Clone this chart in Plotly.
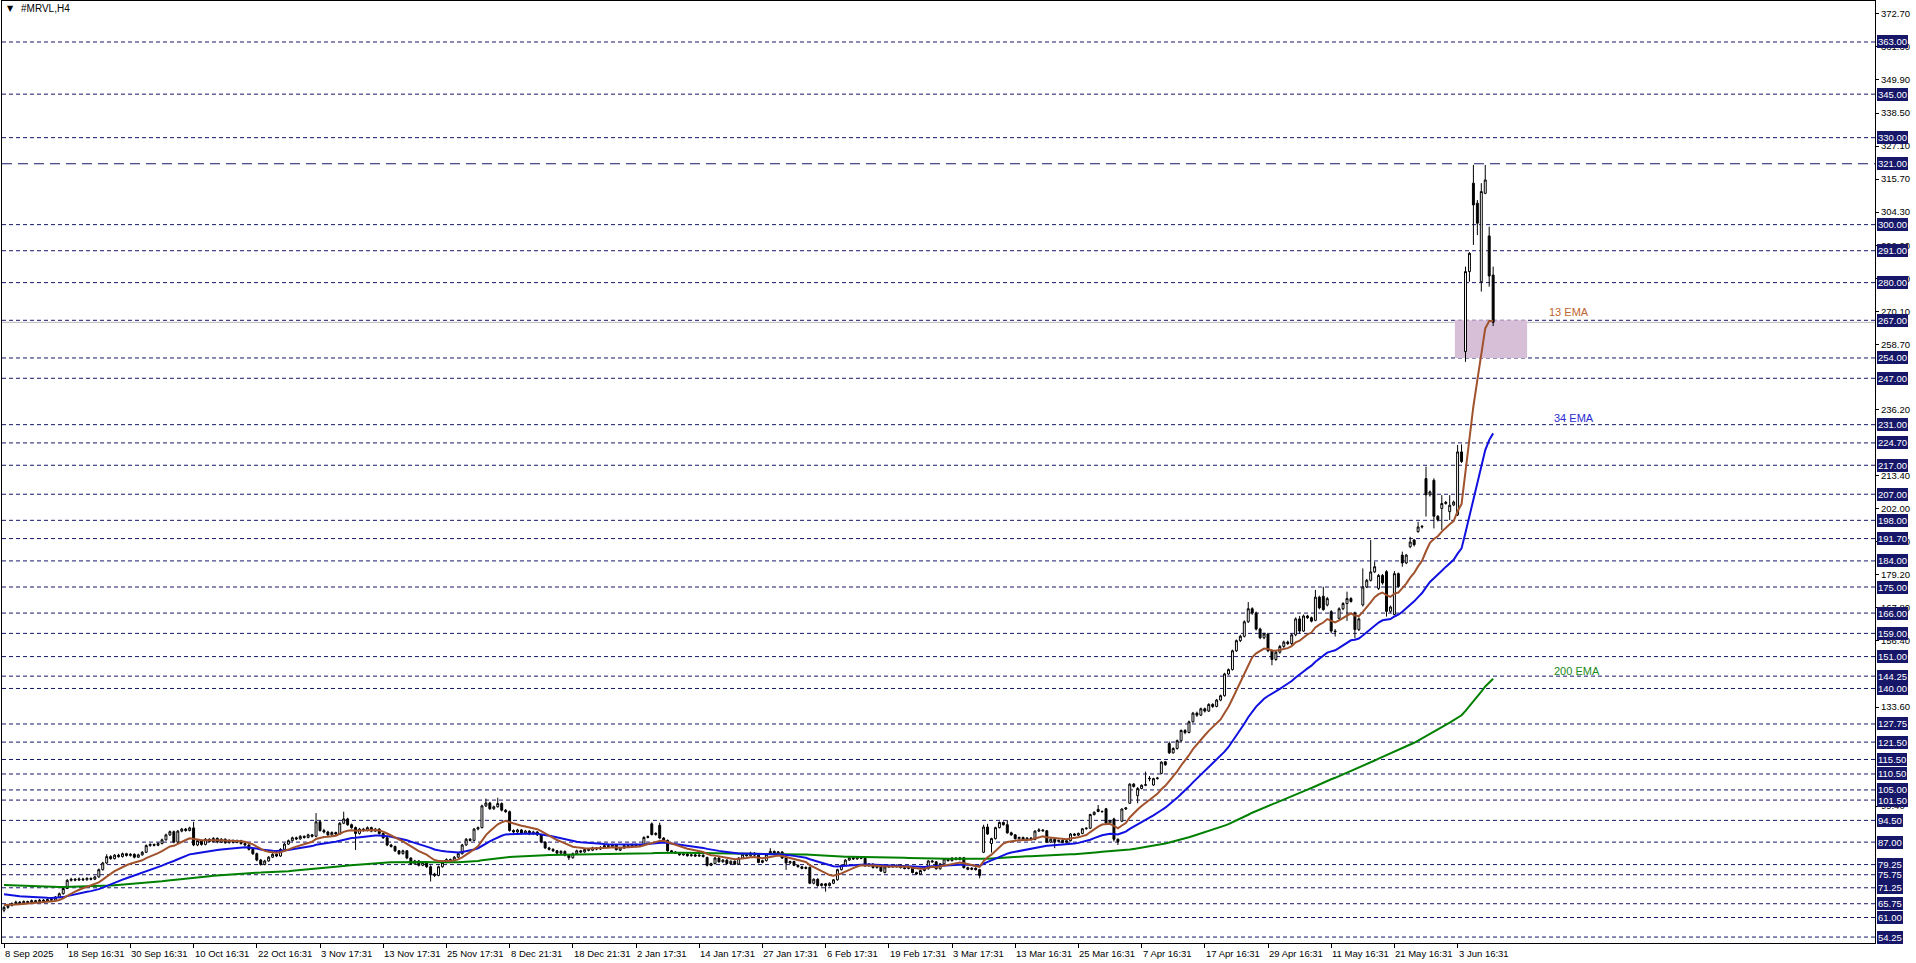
import plotly.graph_objects as go

# ---------------- data (MRVL H4) ----------------
opens = [
63.5, 64.5, 65.2, 65.8, 66.3, 66.0, 66.5, 66.2, 66.8, 66.5,
67.0, 66.6, 67.2, 67.0, 68.0, 69.2, 71.0, 73.8, 74.2, 73.9,
74.3, 74.0, 74.5, 74.2, 75.0, 77.5, 79.8, 82.0, 81.3, 82.5,
82.0, 83.0, 82.4, 82.8, 81.8, 82.6, 83.5, 85.8, 86.2, 85.9,
86.5, 87.8, 89.5, 90.6, 87.0, 90.8, 91.5, 91.0, 91.9, 86.0,
87.5, 86.2, 88.0, 87.2, 88.3, 87.0, 88.0, 86.8, 87.6, 86.9,
87.5, 86.5, 86.0, 84.5, 83.0, 80.8, 79.3, 80.5, 81.8, 82.8,
82.2, 84.5, 86.3, 87.5, 88.5, 88.1, 89.0, 88.6, 89.5, 89.0,
94.0, 91.0, 90.5, 89.5, 90.3, 89.8, 93.5, 95.0, 93.0, 92.0,
90.0, 91.5, 91.0, 92.0, 90.8, 91.5, 90.0, 88.5, 86.0, 85.5,
84.0, 83.0, 84.0, 81.5, 79.5, 80.5, 79.0, 80.0, 78.5, 76.0,
75.5, 78.5, 80.0, 81.0, 80.6, 81.8, 83.0, 86.0, 88.0, 87.6,
91.5, 92.0, 99.5, 100.5, 98.5, 99.2, 100.3, 98.0, 97.5, 91.0,
90.5, 91.2, 90.0, 90.8, 89.8, 90.5, 89.5, 87.0, 85.0, 84.5,
84.0, 83.2, 83.8, 82.5, 81.6, 83.0, 84.0, 83.6, 84.5, 84.2,
85.0, 84.6, 85.2, 85.8, 85.5, 86.0, 84.2, 85.0, 85.8, 85.4,
86.2, 85.6, 85.9, 88.6, 93.3, 89.6, 92.8, 88.4, 87.6, 84.0,
83.6, 83.2, 82.6, 82.9, 82.3, 82.6, 82.2, 82.5, 81.7, 79.0,
79.6, 81.5, 80.2, 80.8, 79.6, 80.4, 79.4, 81.5, 82.8, 82.3,
83.2, 82.5, 80.0, 80.6, 82.8, 83.8, 83.2, 83.6, 81.5, 79.8,
80.3, 79.0, 78.5, 77.9, 78.3, 72.8, 74.2, 72.0, 72.6, 72.0,
72.8, 74.0, 77.5, 79.0, 80.8, 81.6, 81.2, 81.8, 81.4, 78.8,
79.4, 78.2, 78.6, 76.5, 78.4, 78.8, 78.5, 79.0, 78.2, 77.9,
78.4, 76.5, 76.0, 77.2, 77.8, 80.5, 80.2, 77.8, 79.5, 81.2,
80.6, 81.5, 81.0, 81.6, 78.2, 77.6, 78.0, 77.5, 83.5, 92.2,
86.5, 88.2, 92.0, 93.8, 93.0, 90.2, 89.5, 88.2, 88.6, 87.8,
88.4, 87.9, 90.8, 91.2, 90.9, 87.0, 88.0, 87.2, 87.6, 86.9,
87.5, 89.8, 89.4, 90.0, 91.6, 91.8, 96.5, 98.3, 97.6, 98.5,
93.6, 95.0, 88.0, 94.2, 98.4, 100.4, 107.0, 103.0, 105.5, 106.6,
108.8, 106.7, 108.9, 110.7, 114.7, 121.0, 117.8, 119.3, 122.0, 125.5,
124.8, 128.5, 131.5, 130.8, 133.0, 132.2, 134.5, 133.8, 136.0, 137.5,
145.0, 146.5, 153.0, 156.5, 158.0, 163.0, 167.5, 166.0, 160.5, 157.5,
158.8, 153.0, 150.0, 152.5, 154.5, 156.0, 155.5, 158.5, 164.0, 159.8,
165.0, 164.4, 163.5, 171.5, 171.8, 168.8, 166.5, 159.8, 164.2, 167.5,
169.3, 171.0, 166.0, 160.3, 168.8, 175.0, 177.3, 180.2, 174.5, 179.0,
180.3, 166.6, 165.5, 179.6, 186.0, 183.3, 188.9, 191.2, 194.1, 195.7,
212.4, 206.8, 211.8, 199.4, 202.1, 203.8, 201.0, 203.3, 199.9, 221.6,
256.2, 283.8, 314.3, 307.4, 280.3, 310.8, 296.1, 282.6]

highs = [
65.0, 65.6, 66.2, 66.8, 66.7, 66.9, 66.8, 67.2, 67.1, 67.4,
67.3, 67.6, 67.5, 68.4, 69.6, 71.4, 74.3, 74.7, 74.6, 74.8,
74.7, 74.9, 74.8, 75.4, 77.9, 80.2, 82.8, 82.5, 82.9, 83.0,
83.4, 83.3, 83.2, 83.1, 83.0, 83.9, 86.2, 86.6, 86.5, 86.9,
88.2, 89.9, 91.0, 91.0, 91.2, 91.9, 91.9, 92.3, 94.0, 87.9,
87.8, 88.4, 88.3, 88.7, 88.6, 88.4, 88.3, 88.0, 87.9, 87.9,
87.8, 86.9, 86.3, 84.9, 83.4, 81.2, 80.9, 82.2, 83.2, 83.1,
84.9, 86.7, 87.9, 88.9, 88.9, 89.4, 89.3, 89.9, 89.8, 97.0,
94.5, 91.6, 90.9, 90.7, 90.6, 93.9, 97.5, 95.4, 93.4, 92.4,
91.9, 91.9, 92.4, 92.3, 91.9, 91.8, 90.3, 88.8, 86.4, 85.8,
84.3, 84.4, 84.3, 81.8, 80.9, 80.8, 80.4, 80.3, 79.0, 76.4,
78.9, 80.4, 81.4, 81.3, 82.2, 83.4, 86.4, 88.4, 88.4, 91.9,
92.4, 99.9, 102.0, 100.9, 99.6, 102.3, 100.7, 98.4, 97.9, 91.4,
91.6, 91.5, 91.2, 91.1, 90.9, 90.8, 89.8, 87.3, 85.4, 84.9,
84.3, 84.2, 84.1, 82.8, 83.4, 84.4, 84.3, 84.9, 84.8, 85.4,
85.3, 85.6, 86.2, 86.1, 86.4, 86.3, 85.4, 86.1, 86.1, 86.5,
86.5, 86.2, 89.0, 89.3, 93.8, 90.4, 93.7, 88.7, 87.9, 84.3,
83.9, 83.5, 83.2, 83.2, 82.9, 82.9, 82.8, 82.8, 82.0, 79.9,
81.9, 81.8, 81.1, 81.1, 80.7, 80.7, 81.8, 83.2, 83.1, 83.7,
83.5, 82.8, 80.9, 83.1, 84.9, 84.1, 83.9, 83.9, 81.8, 80.6,
80.6, 79.3, 78.8, 78.6, 78.6, 74.5, 74.5, 72.9, 72.9, 73.1,
74.3, 77.8, 79.3, 81.1, 81.9, 81.9, 82.1, 82.1, 81.7, 79.7,
79.7, 78.9, 78.9, 78.7, 79.1, 79.1, 79.3, 79.3, 78.5, 78.7,
78.7, 76.8, 77.5, 78.1, 80.8, 80.8, 80.5, 79.8, 81.5, 81.5,
81.8, 81.8, 81.9, 81.9, 78.5, 78.3, 78.3, 77.8, 93.0, 93.3,
88.5, 92.3, 94.1, 94.1, 94.6, 90.6, 89.8, 88.9, 88.9, 88.7,
88.7, 91.1, 91.8, 91.5, 91.2, 88.3, 88.3, 87.9, 87.9, 87.8,
90.1, 90.1, 90.3, 91.9, 92.1, 96.8, 97.6, 99.8, 97.9, 98.8,
94.7, 95.4, 88.3, 98.7, 99.1, 107.3, 107.4, 106.0, 106.9, 111.3,
109.8, 109.2, 109.5, 114.9, 115.0, 121.7, 119.7, 122.4, 125.9, 126.0,
128.9, 131.9, 132.0, 133.4, 133.4, 134.9, 134.9, 136.4, 137.9, 145.4,
146.9, 153.4, 156.9, 158.5, 163.5, 169.8, 168.0, 166.5, 161.0, 159.3,
159.2, 153.5, 153.0, 155.0, 156.5, 156.5, 159.0, 164.5, 165.0, 165.5,
165.4, 164.8, 174.0, 172.0, 175.1, 171.6, 167.0, 160.5, 168.0, 169.8,
173.4, 171.5, 166.5, 164.5, 181.4, 177.8, 191.2, 183.7, 179.5, 179.5,
180.8, 168.6, 180.5, 180.0, 187.2, 186.4, 192.3, 191.6, 197.5, 196.4,
216.5, 208.3, 212.5, 199.8, 206.7, 204.7, 206.7, 204.8, 224.0, 224.2,
285.5, 290.5, 320.6, 308.5, 314.3, 320.6, 299.3, 285.5]

lows = [
62.8, 64.0, 64.8, 65.4, 65.6, 65.7, 65.8, 65.9, 66.1, 66.2,
66.2, 66.3, 66.6, 66.8, 67.7, 68.9, 70.8, 73.4, 73.5, 73.6,
73.6, 73.7, 73.8, 73.9, 74.7, 77.2, 79.4, 80.9, 81.0, 81.6,
81.7, 82.0, 82.0, 81.4, 81.5, 82.3, 83.2, 85.4, 85.5, 85.6,
86.2, 87.5, 89.1, 86.6, 86.7, 90.4, 90.6, 90.7, 85.6, 85.6,
85.8, 85.9, 86.8, 86.9, 86.6, 86.7, 86.4, 86.5, 86.5, 86.6,
86.1, 85.6, 84.1, 82.6, 80.4, 78.9, 79.0, 80.2, 81.5, 81.8,
81.9, 84.2, 86.0, 87.2, 87.7, 87.8, 88.2, 88.3, 88.6, 88.7,
90.6, 90.0, 89.1, 89.2, 89.4, 89.5, 93.2, 92.6, 91.6, 84.3,
89.6, 90.6, 90.7, 90.4, 90.5, 89.6, 88.1, 85.6, 85.1, 83.6,
82.6, 82.7, 81.1, 79.1, 79.2, 78.6, 78.7, 78.1, 73.4, 75.0,
75.2, 78.2, 79.7, 80.2, 80.3, 81.5, 82.7, 85.7, 87.2, 87.3,
91.1, 91.7, 99.1, 98.1, 98.1, 98.9, 97.6, 97.1, 90.6, 90.1,
90.2, 89.6, 89.7, 89.4, 89.5, 89.1, 86.6, 84.6, 84.1, 83.6,
82.8, 82.9, 82.1, 80.8, 81.3, 82.7, 83.2, 83.3, 83.8, 83.9,
84.2, 84.3, 84.9, 85.1, 85.2, 84.1, 83.9, 84.7, 85.0, 85.1,
85.2, 85.3, 85.6, 88.3, 89.3, 89.2, 88.0, 87.2, 83.7, 83.2,
82.9, 82.3, 82.3, 82.0, 82.0, 81.9, 81.9, 81.7, 78.6, 78.7,
79.3, 79.9, 79.9, 79.3, 79.3, 79.1, 79.1, 81.2, 82.0, 82.0,
82.2, 79.7, 79.7, 80.3, 82.7, 82.9, 82.9, 81.2, 77.4, 79.5,
78.7, 78.2, 77.6, 77.6, 72.5, 72.4, 71.6, 71.7, 69.9, 71.7,
72.5, 73.7, 77.2, 78.7, 80.5, 80.9, 80.9, 81.1, 78.5, 78.5,
77.9, 77.9, 76.7, 76.2, 78.1, 78.2, 78.2, 77.9, 77.6, 77.6,
76.2, 75.7, 75.7, 76.9, 77.5, 79.9, 77.5, 77.5, 79.2, 80.3,
80.3, 80.7, 80.7, 77.9, 77.3, 77.3, 77.2, 74.5, 83.2, 89.5,
83.4, 87.9, 91.7, 92.7, 89.9, 89.2, 87.9, 87.9, 87.5, 87.5,
87.6, 87.6, 90.5, 90.6, 86.7, 86.7, 84.9, 86.9, 86.6, 86.6,
87.2, 89.1, 89.1, 89.7, 91.3, 91.5, 96.2, 97.3, 97.2, 93.3,
93.3, 87.2, 86.0, 93.9, 98.1, 100.2, 105.8, 100.4, 105.2, 106.3,
108.0, 106.4, 108.6, 110.4, 113.3, 117.4, 117.5, 118.9, 121.6, 124.2,
124.5, 128.2, 130.2, 130.5, 131.7, 131.9, 133.3, 133.5, 135.6, 137.2,
144.6, 146.2, 152.6, 156.0, 157.6, 162.6, 165.4, 160.0, 157.0, 157.0,
152.5, 148.0, 149.5, 152.0, 154.0, 155.0, 155.0, 158.0, 159.0, 159.5,
164.0, 162.8, 163.2, 167.3, 166.8, 168.3, 159.0, 157.9, 163.8, 167.0,
163.3, 169.6, 157.3, 159.8, 168.3, 174.6, 176.9, 179.8, 174.0, 175.8,
164.8, 166.1, 165.3, 174.8, 182.0, 182.9, 188.4, 189.0, 193.7, 195.2,
199.3, 206.2, 195.2, 197.6, 194.7, 203.4, 198.1, 202.9, 199.5, 217.8,
252.7, 280.3, 293.0, 296.4, 276.9, 310.5, 278.6, 265.0]

closes = [
64.5, 65.2, 65.8, 66.3, 66.0, 66.5, 66.2, 66.8, 66.5, 67.0,
66.6, 67.2, 67.0, 68.0, 69.2, 71.0, 73.8, 74.2, 73.9, 74.3,
74.0, 74.5, 74.2, 75.0, 77.5, 79.8, 82.0, 81.3, 82.5, 82.0,
83.0, 82.4, 82.8, 81.8, 82.6, 83.5, 85.8, 86.2, 85.9, 86.5,
87.8, 89.5, 90.6, 87.0, 90.8, 91.5, 91.0, 91.9, 86.0, 87.5,
86.2, 88.0, 87.2, 88.3, 87.0, 88.0, 86.8, 87.6, 86.9, 87.5,
86.5, 86.0, 84.5, 83.0, 80.8, 79.3, 80.5, 81.8, 82.8, 82.2,
84.5, 86.3, 87.5, 88.5, 88.1, 89.0, 88.6, 89.5, 89.0, 94.0,
91.0, 90.5, 89.5, 90.3, 89.8, 93.5, 95.0, 93.0, 92.0, 90.0,
91.5, 91.0, 92.0, 90.8, 91.5, 90.0, 88.5, 86.0, 85.5, 84.0,
83.0, 84.0, 81.5, 79.5, 80.5, 79.0, 80.0, 78.5, 76.0, 75.5,
78.5, 80.0, 81.0, 80.6, 81.8, 83.0, 86.0, 88.0, 87.6, 91.5,
92.0, 99.5, 100.5, 98.5, 99.2, 100.3, 98.0, 97.5, 91.0, 90.5,
91.2, 90.0, 90.8, 89.8, 90.5, 89.5, 87.0, 85.0, 84.5, 84.0,
83.2, 83.8, 82.5, 81.6, 83.0, 84.0, 83.6, 84.5, 84.2, 85.0,
84.6, 85.2, 85.8, 85.5, 86.0, 84.4, 85.0, 85.8, 85.4, 86.2,
85.6, 85.9, 88.6, 88.9, 89.6, 90.0, 88.4, 87.6, 84.0, 83.6,
83.2, 82.6, 82.9, 82.3, 82.6, 82.2, 82.5, 82.0, 79.0, 79.6,
81.5, 80.2, 80.8, 79.6, 80.4, 79.4, 81.5, 82.8, 82.3, 83.2,
82.5, 80.0, 80.6, 82.8, 83.8, 83.2, 83.6, 81.5, 79.8, 80.3,
79.0, 78.5, 77.9, 78.3, 72.8, 74.2, 72.0, 72.6, 72.0, 72.8,
74.0, 77.5, 79.0, 80.8, 81.6, 81.2, 81.8, 81.4, 78.8, 79.4,
78.2, 78.6, 77.0, 78.4, 78.8, 78.5, 79.0, 78.2, 77.9, 78.4,
76.5, 76.0, 77.2, 77.8, 80.5, 80.2, 77.8, 79.5, 81.2, 80.6,
81.5, 81.0, 81.6, 78.2, 77.6, 78.0, 77.5, 75.5, 92.2, 89.8,
88.2, 92.0, 93.8, 93.0, 90.2, 89.5, 88.2, 88.6, 87.8, 88.4,
87.9, 90.8, 91.2, 90.9, 87.0, 88.0, 87.2, 87.6, 86.9, 87.5,
89.8, 89.4, 90.0, 91.6, 91.8, 96.5, 97.3, 97.6, 97.5, 93.6,
94.4, 88.0, 87.2, 98.4, 98.8, 107.0, 106.2, 105.5, 106.6, 106.8,
109.0, 108.9, 109.1, 114.6, 113.7, 117.8, 119.3, 122.0, 125.5, 124.8,
128.5, 131.5, 130.8, 133.0, 132.2, 134.5, 133.8, 136.0, 137.5, 145.0,
146.5, 153.0, 156.5, 158.0, 163.0, 167.5, 166.0, 160.5, 157.5, 158.8,
153.0, 150.0, 152.5, 154.5, 156.0, 155.5, 158.5, 164.0, 159.8, 165.0,
164.4, 163.2, 171.5, 167.8, 167.2, 171.0, 159.8, 159.6, 167.5, 169.3,
171.0, 170.0, 160.3, 164.0, 175.0, 177.3, 180.2, 182.0, 179.0, 176.4,
166.6, 168.1, 179.6, 175.2, 183.3, 186.0, 190.5, 189.6, 195.7, 195.9,
206.8, 207.8, 199.4, 198.2, 203.8, 204.2, 203.2, 204.3, 221.6, 218.3,
283.8, 290.1, 306.8, 300.5, 311.4, 315.4, 282.3, 266.3]

ema_seeds = {13: 65.4, 34: 69.3, 200: 72.3}

date_labels = ["8 Sep 2025", "18 Sep 16:31", "30 Sep 16:31", "10 Oct 16:31", "22 Oct 16:31",
               "3 Nov 17:31", "13 Nov 17:31", "25 Nov 17:31", "8 Dec 21:31", "18 Dec 21:31",
               "2 Jan 17:31", "14 Jan 17:31", "27 Jan 17:31", "6 Feb 17:31", "19 Feb 17:31",
               "3 Mar 17:31", "13 Mar 16:31", "25 Mar 16:31", "7 Apr 16:31", "17 Apr 16:31",
               "29 Apr 16:31", "11 May 16:31", "21 May 16:31", "3 Jun 16:31"]
bars_per_label = 16

level_lines = [363, 345, 330, 321, 300, 291, 280, 267, 254, 247, 231, 224.70, 217, 207, 198,
               191.70, 184, 175, 166, 159, 151, 144.25, 140, 127.75, 121.50, 115.50, 110.50,
               105, 101.50, 94.50, 87, 79.25, 75.75, 71.25, 65.75, 61, 54.25]
long_dash_level = 321
# regular price-scale ticks that are (at least partly) visible in the reference
price_ticks = [372.70, 361.30, 349.90, 338.50, 327.10, 315.70, 304.30, 292.90, 281.50, 270.10,
               258.70, 236.20, 213.40, 202.00, 190.60, 179.20, 167.80, 156.40, 133.60, 99.40]
zone_low, zone_high = 254, 267
zone_bars = (367.3, 385.6)

# ---------------- helpers ----------------
def ema(values, period, seed):
    a = 2.0 / (period + 1)
    out, e = [], seed
    for v in values:
        e = e + a * (v - e)
        out.append(e)
    return out

N = len(closes)
xs = list(range(N))
FONT = "Liberation Sans"
NAVY = "#17176a"

W, H = 1916, 963
ML, MR, MT, MB = 2, 41, 1, 20
PW, PH = W - ML - MR, H - MT - MB

def px2paper_x(px):
    return (px - ML) / PW

def px2paper_y(py):
    return (H - MB - py) / PH

fig = go.Figure()

fig.add_trace(go.Candlestick(
    x=xs, open=opens, high=highs, low=lows, close=closes,
    increasing=dict(line=dict(color="black", width=1), fillcolor="white"),
    decreasing=dict(line=dict(color="black", width=1), fillcolor="black"),
    whiskerwidth=0, showlegend=False, hoverinfo="skip"))

ema_styles = [(200, "#008000"), (34, "#1010e0"), (13, "#a0522d")]
for period, col in ema_styles:
    fig.add_trace(go.Scatter(x=xs, y=ema(closes, period, ema_seeds[period]), mode="lines",
                             line=dict(color=col, width=2), showlegend=False, hoverinfo="skip"))

shapes = []
shapes.append(dict(type="rect", xref="x", yref="y", x0=zone_bars[0], x1=zone_bars[1],
                   y0=zone_low, y1=zone_high, fillcolor="#d8bfd8", line=dict(width=0), layer="below"))
for v in level_lines:
    dash = "10px,6px" if v == long_dash_level else "4px,3px"
    shapes.append(dict(type="line", xref="paper", yref="y", x0=0, x1=1, y0=v, y1=v,
                       line=dict(color=NAVY, width=1, dash=dash), layer="below"))
shapes.append(dict(type="line", xref="paper", yref="y", x0=0, x1=1, y0=closes[-1], y1=closes[-1],
                   line=dict(color="#b8b8b8", width=1), layer="below"))

annotations = []
for v in level_lines:
    annotations.append(dict(xref="paper", yref="y", x=px2paper_x(1877), y=v, text=f"{v:.2f}",
                            xanchor="left", yanchor="middle", showarrow=False, bgcolor=NAVY,
                            borderpad=1, borderwidth=0,
                            font=dict(family=FONT, size=9.5, color="white")))
for k, lab in enumerate(date_labels):
    annotations.append(dict(xref="x", yref="paper", x=k * bars_per_label, y=px2paper_y(953),
                            text=lab, xanchor="left", yanchor="middle", xshift=-1, showarrow=False,
                            font=dict(family=FONT, size=9.5, color="black")))
annotations.append(dict(xref="paper", yref="paper", x=px2paper_x(5), y=px2paper_y(9), text="▼",
                        xanchor="left", yanchor="middle", showarrow=False,
                        font=dict(family="DejaVu Sans", size=8, color="black")))
annotations.append(dict(xref="paper", yref="paper", x=px2paper_x(19), y=px2paper_y(9), text="#MRVL,H4",
                        xanchor="left", yanchor="middle", showarrow=False,
                        font=dict(family=FONT, size=10, color="black")))
for txt, pxx, pxy, col in [("13 EMA", 1547, 312, "#c0652e"), ("34 EMA", 1552, 418, "#2a2ad0"),
                           ("200 EMA", 1552, 671, "#1a8a1a")]:
    annotations.append(dict(xref="paper", yref="paper", x=px2paper_x(pxx), y=px2paper_y(pxy), text=txt,
                            xanchor="left", yanchor="middle", showarrow=False,
                            font=dict(family=FONT, size=11, color=col)))

x0 = -(4 - ML) / 3.95
fig.update_layout(
    width=W, height=H, margin=dict(l=ML, r=MR, t=MT, b=MB),
    paper_bgcolor="white", plot_bgcolor="white",
    shapes=shapes, annotations=annotations, showlegend=False,
    xaxis=dict(range=[x0, x0 + PW / 3.95], rangeslider=dict(visible=False), showgrid=False,
               zeroline=False, showline=True, mirror=True, linecolor="black", linewidth=1,
               ticks="outside", ticklen=4, tickcolor="black",
               tickvals=[k * bars_per_label for k in range(len(date_labels))], showticklabels=False),
    yaxis=dict(range=[52.2, 377.14], side="right", showgrid=False, zeroline=False, showline=True,
               mirror=True, linecolor="black", linewidth=1, ticks="outside", ticklen=3,
               tickcolor="black", tickvals=price_ticks, ticktext=[f"{t:.2f}" for t in price_ticks],
               tickfont=dict(family=FONT, size=9.5, color="black")),
)

fig.write_html("out.html")
